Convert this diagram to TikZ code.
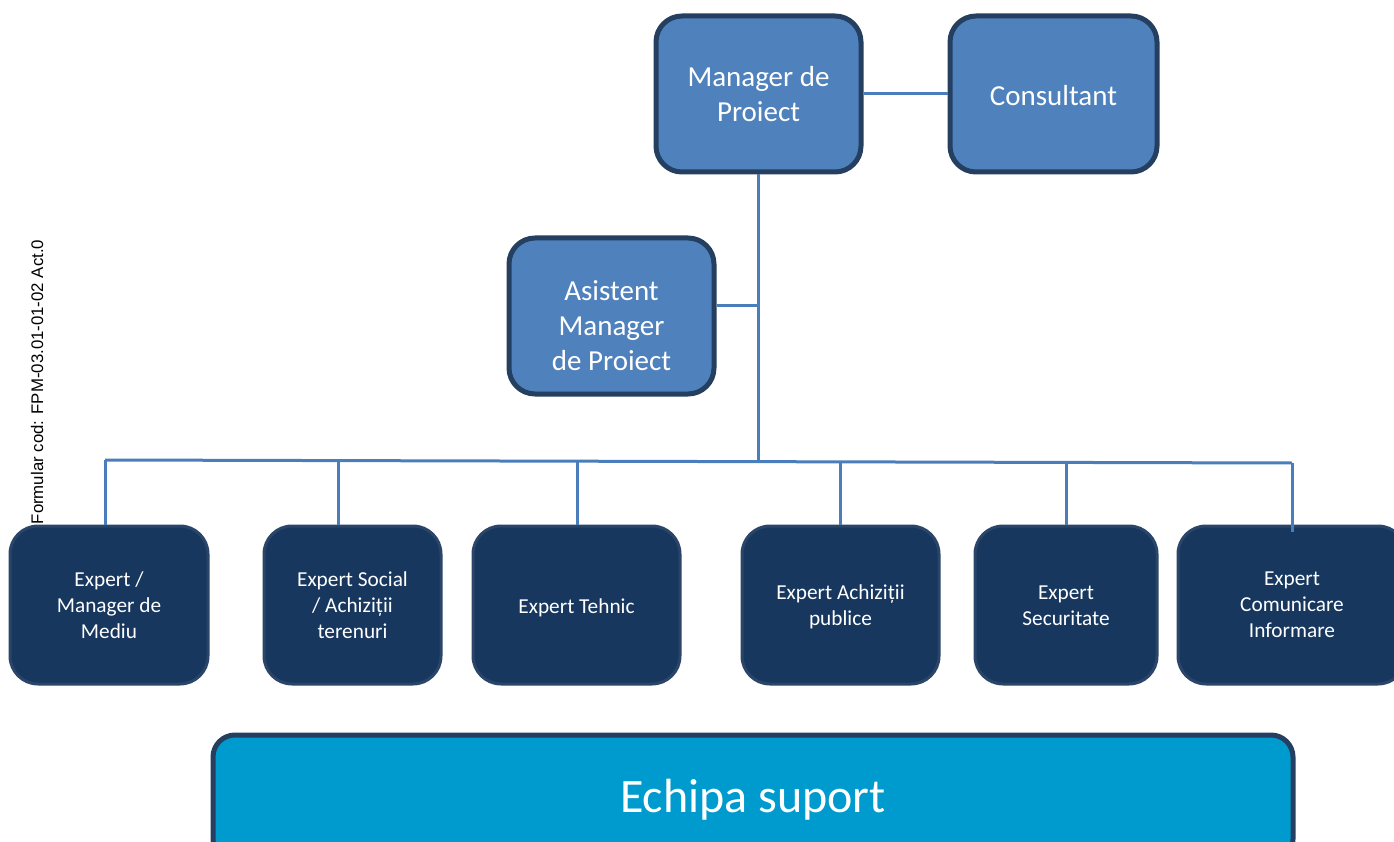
\documentclass[tikz,border=0pt]{standalone}
\usepackage{fontspec}
\setmainfont{Carlito}
\newfontfamily\arialf{Liberation Sans}
\definecolor{mgrfill}{HTML}{4F81BD}
\definecolor{mgrdraw}{HTML}{243F60}
\definecolor{expfill}{HTML}{17375E}
\definecolor{expdraw}{HTML}{2A4568}
\definecolor{supfill}{HTML}{009BCE}
\definecolor{linec}{HTML}{4A7EBB}
\begin{document}
\begin{tikzpicture}[x=1pt,y=-1pt,
  mgrbox/.style={draw=mgrdraw,fill=mgrfill,line width=5pt,rounded corners=26pt,
    text=white,align=center,font=\fontsize{29}{35}\selectfont,
    minimum width=205pt,minimum height=156pt,inner sep=0pt},
  expbox/.style={draw=expdraw,fill=expfill,line width=3pt,rounded corners=28pt,
    text=white,align=center,font=\fontsize{21.3}{26}\selectfont,
    minimum height=158pt,inner sep=0pt},
  supbox/.style={draw=mgrdraw,fill=supfill,line width=5pt,rounded corners=22pt,
    text=white,align=center,font=\fontsize{48}{54}\selectfont,
    minimum width=1080pt,minimum height=126pt,inner sep=0pt},
  boxtext/.style={text=white,align=center,inner sep=0pt},
  conn/.style={draw=linec,line width=3pt}]
\useasboundingbox (0,0) rectangle (1394,842);
\clip (0,0) rectangle (1394,842);

% upper level
\node[mgrbox] (mgr) at (758.5,94) {Manager de\\Proiect};
\node[mgrbox,minimum width=207pt] (cons) at (1053.5,94) {};
\node[boxtext,font=\fontsize{29}{35}\selectfont] (consT) at (1053.5,96) {Consultant};
\node[mgrbox] (asist) at (611.5,316) {};
\node[boxtext,font=\fontsize{29}{35}\selectfont] (asistT) at (611.5,326) {Asistent\\Manager\\de Proiect};

% experts
\node[expbox,minimum width=198pt] (e1) at (109,605) {Expert /\\Manager de\\Mediu};
\node[expbox,minimum width=177pt] (e2) at (352.5,605) {Expert Social\\/ Achiziții\\terenuri};
\node[expbox,minimum width=207pt] (e3) at (576.5,605) {};
\node[boxtext,font=\fontsize{21.3}{26}\selectfont] (e3T) at (576.5,608) {Expert Tehnic};
\node[expbox,minimum width=197pt] (e4) at (840.5,605) {};
\node[boxtext,font=\fontsize{21.3}{26}\selectfont] (e4T) at (840.5,607) {Expert Achiziții\\publice};
\node[expbox,minimum width=182pt] (e5) at (1066,605) {};
\node[boxtext,font=\fontsize{21.3}{26}\selectfont] (e5T) at (1066,606) {Expert\\Securitate};
\node[expbox,minimum width=228pt] (e6) at (1292,605) {Expert\\Comunicare\\Informare};

% support team
\node[supbox] (sup) at (753,798) {};
\node[boxtext,font=\fontsize{48}{54}\selectfont] (supT) at (753,800) {Echipa suport};

% side label
\node[font=\arialf\fontsize{16.8}{18}\selectfont,rotate=90,inner sep=0pt] (code) at (37,382) {Formular cod: FPM-03.01-01-02 Act.0};

% connectors
\coordinate (busmid) at (758.5,461);
\coordinate (asj) at (758.5,305);
\coordinate (busL) at (105,460);
\coordinate (busR) at (1292,463);
\draw[conn] (mgr.east) -- (cons.west);
\draw[conn] (mgr.south) -- (busmid);
\draw[conn] (asist.east |- asj) -- (asj);
\draw[conn] (busL) -- (busR);
\draw[conn] (busL) -- (busL |- e1.north);
\draw[conn] (338,460.5) coordinate (d2) -- (d2 |- e2.north);
\draw[conn] (577,461) coordinate (d3) -- (d3 |- e3.north);
\draw[conn] (840,461.5) coordinate (d4) -- (d4 |- e4.north);
\draw[conn] (1066,462) coordinate (d5) -- (d5 |- e5.north);
\draw[conn] (busR) -- ([yshift=-7pt]busR |- e6.north);
\end{tikzpicture}
\end{document}
